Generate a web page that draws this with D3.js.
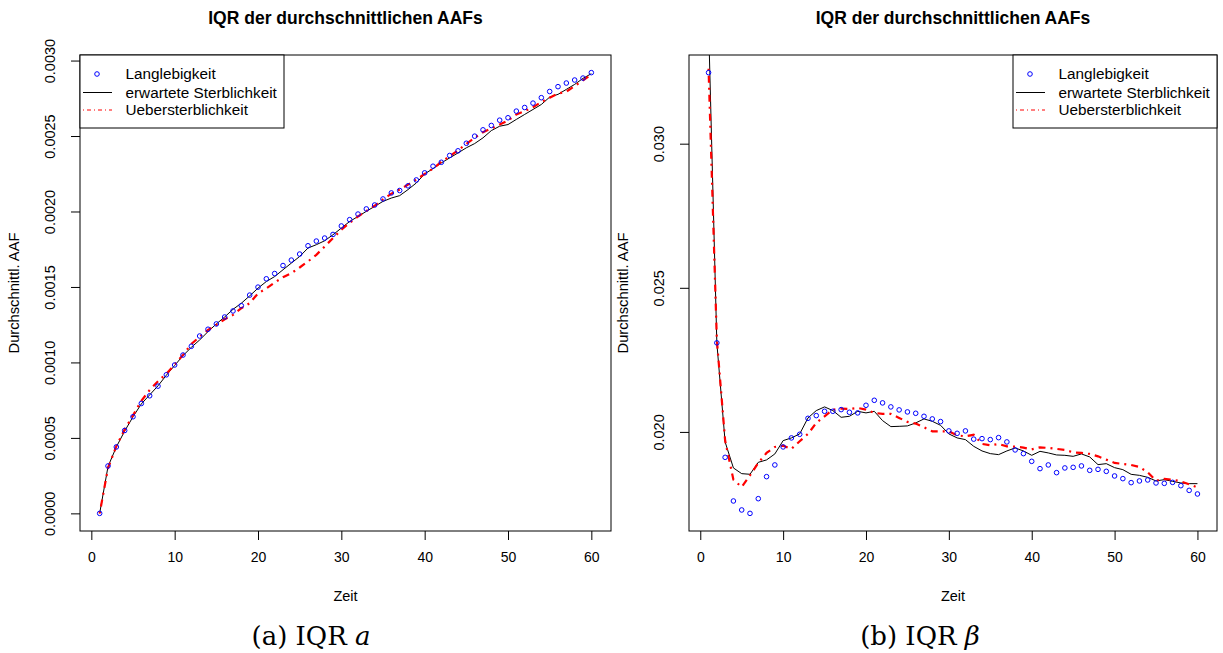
<!DOCTYPE html>
<html>
<head>
<meta charset="utf-8">
<script src="https://cdn.jsdelivr.net/npm/d3@7"></script>
<style>
  body { margin: 0; background: #fff; }
  svg { display: block; }
  text { fill: #000; }
</style>
</head>
<body>
<svg id="chart" width="1223" height="653" font-family="Liberation Sans, Arial, sans-serif"></svg>
<script>
// Zeitpunkte (x-Achse)
const zeit = [1,2,3,4,5,6,7,8,9,10,11,12,13,14,15,16,17,18,19,20,
  21,22,23,24,25,26,27,28,29,30,31,32,33,34,35,36,37,38,39,40,
  41,42,43,44,45,46,47,48,49,50,51,52,53,54,55,56,57,58,59,60];

// (a) IQR a
const langA = [0.000000,0.000314,0.000440,0.000549,0.000640,0.000728,0.000779,0.000843,0.000918,0.000983,
  0.001049,0.001107,0.001175,0.001220,0.001255,0.001301,0.001341,0.001376,0.001446,0.001499,
  0.001554,0.001589,0.001642,0.001678,0.001718,0.001773,0.001804,0.001824,0.001848,0.001904,
  0.001946,0.001983,0.002017,0.002043,0.002083,0.002123,0.002139,0.002170,0.002209,0.002256,
  0.002300,0.002326,0.002371,0.002402,0.002452,0.002499,0.002541,0.002570,0.002605,0.002621,
  0.002665,0.002689,0.002718,0.002754,0.002795,0.002827,0.002851,0.002871,0.002884,0.002920];
const erwA = [0.000000,0.000310,0.000440,0.000545,0.000640,0.000725,0.000785,0.000845,0.000915,0.000980,
  0.001045,0.001100,0.001149,0.001204,0.001255,0.001301,0.001352,0.001392,0.001441,0.001492,
  0.001536,0.001569,0.001614,0.001658,0.001702,0.001758,0.001780,0.001806,0.001846,0.001890,
  0.001934,0.001967,0.002001,0.002034,0.002067,0.002089,0.002105,0.002145,0.002189,0.002249,
  0.002284,0.002322,0.002355,0.002388,0.002422,0.002450,0.002488,0.002536,0.002565,0.002576,
  0.002610,0.002643,0.002676,0.002709,0.002758,0.002776,0.002809,0.002842,0.002882,0.002913];
const uebA = [0.000000,0.000300,0.000445,0.000555,0.000650,0.000745,0.000817,0.000875,0.000925,0.000985,
  0.001050,0.001122,0.001170,0.001215,0.001248,0.001286,0.001315,0.001359,0.001392,0.001457,
  0.001490,0.001529,0.001565,0.001591,0.001629,0.001669,0.001713,0.001768,0.001824,0.001879,
  0.001925,0.001967,0.002003,0.002038,0.002080,0.002118,0.002145,0.002178,0.002211,0.002249,
  0.002284,0.002329,0.002366,0.002406,0.002448,0.002488,0.002525,0.002550,0.002576,0.002603,
  0.002643,0.002665,0.002691,0.002725,0.002754,0.002781,0.002794,0.002831,0.002869,0.002908];

// (b) IQR beta
const langB = [0.032465,0.023090,0.019118,0.017604,0.017292,0.017174,0.017684,0.018448,0.018854,0.019479,
  0.019792,0.019917,0.020472,0.020566,0.020715,0.020715,0.020774,0.020681,0.020660,0.020924,
  0.021097,0.021007,0.020868,0.020764,0.020694,0.020646,0.020542,0.020451,0.020358,0.020035,
  0.019951,0.020035,0.019750,0.019767,0.019733,0.019802,0.019653,0.019375,0.019247,0.018979,
  0.018726,0.018854,0.018587,0.018750,0.018771,0.018820,0.018667,0.018701,0.018632,0.018472,
  0.018379,0.018240,0.018299,0.018333,0.018229,0.018215,0.018250,0.018135,0.017972,0.017847];
const erwB = [0.034170,0.023090,0.019650,0.018750,0.018552,0.018530,0.018945,0.019028,0.019236,0.019698,
  0.019792,0.019931,0.020486,0.020740,0.020868,0.020740,0.020507,0.020542,0.020715,0.020660,
  0.020715,0.020392,0.020184,0.020194,0.020208,0.020312,0.020451,0.020368,0.020229,0.019931,
  0.019792,0.019733,0.019500,0.019340,0.019247,0.019212,0.019340,0.019444,0.019340,0.019188,
  0.019326,0.019271,0.019201,0.019188,0.019153,0.019236,0.019132,0.018865,0.018899,0.018760,
  0.018691,0.018528,0.018493,0.018424,0.018299,0.018344,0.018285,0.018229,0.018205,0.018205];
const uebB = [0.032600,0.023200,0.019700,0.018340,0.018090,0.018490,0.018924,0.019271,0.019479,0.019524,
  0.019410,0.019674,0.019931,0.020312,0.020542,0.020774,0.020809,0.020799,0.020833,0.020774,
  0.020660,0.020625,0.020625,0.020486,0.020347,0.020288,0.020160,0.020021,0.020021,0.020021,
  0.019882,0.019847,0.019900,0.019583,0.019535,0.019583,0.019500,0.019490,0.019455,0.019396,
  0.019465,0.019444,0.019410,0.019375,0.019292,0.019271,0.019236,0.019153,0.019038,0.018924,
  0.018889,0.018854,0.018785,0.018597,0.018309,0.018368,0.018344,0.018285,0.018181,0.018077];

const xTicks = [0, 10, 20, 30, 40, 50, 60];
const yTicksA = [0, 0.0005, 0.0010, 0.0015, 0.0020, 0.0025, 0.0030];
const yTicksB = [0.020, 0.025, 0.030];
const titel = "IQR der durchschnittlichen AAFs";
const xTitel = "Zeit";
const yTitel = "Durchschnittl. AAF";
const legendNames = ["Langlebigkeit", "erwartete Sterblichkeit", "Uebersterblichkeit"];

const svg = d3.select("#chart");

// R-Stil: Achsenbereich um 4% erweitern
function rRange(v) {
  const [lo, hi] = d3.extent(v);
  const pad = (hi - lo) * 0.04;
  return [lo - pad, hi + pad];
}

function drawPanel(p) {
  const g = svg.append("g");
  const x = d3.scaleLinear().domain(rRange(zeit)).range([p.left, p.right]);
  const y = d3.scaleLinear().domain(rRange(p.lang)).range([p.bottom, p.top]);

  const clipId = "clip" + p.id;
  svg.append("clipPath").attr("id", clipId)
    .append("rect")
      .attr("x", p.left).attr("y", p.top)
      .attr("width", p.right - p.left).attr("height", p.bottom - p.top);

  // Achsen
  const xAxis = d3.axisBottom(x).tickValues(xTicks).tickSize(9).tickPadding(12).tickFormat(d3.format("d"));
  const yAxis = d3.axisLeft(y).tickValues(p.yTicks).tickSize(9).tickFormat(d3.format(p.fmt));

  const gx = g.append("g").attr("transform", "translate(0," + p.bottom + ")").call(xAxis);
  gx.select(".domain").remove();
  gx.attr("font-family", null);
  gx.selectAll("text").attr("font-size", 14);

  const gy = g.append("g").attr("transform", "translate(" + p.left + ",0)").call(yAxis);
  gy.select(".domain").remove();
  gy.attr("font-family", null);
  gy.selectAll("text")
    .attr("font-size", 14.5)
    .attr("text-anchor", "middle")
    .attr("x", null).attr("dy", null)
    .attr("transform", "translate(-25,0) rotate(-90)");

  // Kasten
  g.append("rect")
    .attr("x", p.left).attr("y", p.top)
    .attr("width", p.right - p.left).attr("height", p.bottom - p.top)
    .attr("fill", "none").attr("stroke", "#000").attr("stroke-width", 1);

  const plot = g.append("g").attr("clip-path", "url(#" + clipId + ")");

  const line = d3.line().x((d, i) => x(zeit[i])).y(d => y(d));

  plot.append("path")
    .datum(p.erw)
    .attr("d", line)
    .attr("fill", "none")
    .attr("stroke", "#000")
    .attr("stroke-width", 1);

  plot.append("path")
    .datum(p.ueb)
    .attr("d", line)
    .attr("fill", "none")
    .attr("stroke", "#ff0000")
    .attr("stroke-width", 2.2)
    .attr("stroke-dasharray", "2,5,7,5");

  plot.selectAll("circle.lang")
    .data(p.lang)
    .join("circle")
      .attr("class", "lang")
      .attr("cx", (d, i) => x(zeit[i]))
      .attr("cy", d => y(d))
      .attr("r", 2.3)
      .attr("fill", "none")
      .attr("stroke", "#0000ff")
      .attr("stroke-width", 1);

  // Titel und Achsentitel
  const cx = (p.left + p.right) / 2;
  g.append("text")
    .attr("x", cx).attr("y", 24)
    .attr("text-anchor", "middle")
    .attr("font-size", 17.5).attr("font-weight", "bold")
    .text(titel);

  g.append("text")
    .attr("x", cx).attr("y", 601)
    .attr("text-anchor", "middle")
    .attr("font-size", 14.5)
    .text(xTitel);

  g.append("text")
    .attr("transform", "translate(" + (p.left - 61) + "," + ((p.top + p.bottom) / 2) + ") rotate(-90)")
    .attr("text-anchor", "middle")
    .attr("font-size", 14.7)
    .text(yTitel);

  // Legende
  const lw = 204, lh = 73;
  const lx = p.legendRight ? p.right - lw : p.left;
  const leg = g.append("g").attr("transform", "translate(" + lx + "," + p.top + ")");
  leg.append("rect")
    .attr("width", lw).attr("height", lh)
    .attr("fill", "#fff").attr("stroke", "#000").attr("stroke-width", 1);
  const rows = [19, 37.5, 55];
  legendNames.forEach((name, i) => {
    leg.append("text")
      .attr("x", 45.5).attr("y", rows[i]).attr("dy", "0.35em")
      .attr("font-size", 15.3)
      .text(name);
  });
  leg.append("circle")
    .attr("cx", 17).attr("cy", rows[0]).attr("r", 2.3)
    .attr("fill", "none").attr("stroke", "#0000ff").attr("stroke-width", 1);
  leg.append("line")
    .attr("x1", 3).attr("x2", 32).attr("y1", rows[1]).attr("y2", rows[1])
    .attr("stroke", "#000").attr("stroke-width", 1);
  leg.append("line")
    .attr("x1", 3).attr("x2", 32).attr("y1", rows[2]).attr("y2", rows[2])
    .attr("stroke", "#ff0000").attr("stroke-width", 1)
    .attr("stroke-dasharray", "1,3,4,3");

  // Unterschrift
  const cap = g.append("text")
    .attr("x", p.capX).attr("y", 645)
    .attr("text-anchor", "middle")
    .attr("font-size", 26)
    .style("font-family", "'DejaVu Serif', serif");
  cap.append("tspan").text(p.capText + " ");
  cap.append("tspan").style("font-style", "italic").text(p.capSym);
}

drawPanel({
  id: "A", left: 80, right: 611, top: 55, bottom: 531,
  lang: langA, erw: erwA, ueb: uebA,
  yTicks: yTicksA, fmt: ".4f", legendRight: false,
  capX: 311, capText: "(a) IQR", capSym: "a"
});

drawPanel({
  id: "B", left: 689, right: 1217, top: 55, bottom: 531,
  lang: langB, erw: erwB, ueb: uebB,
  yTicks: yTicksB, fmt: ".3f", legendRight: true,
  capX: 920, capText: "(b) IQR", capSym: "β"
});
</script>
</body>
</html>
